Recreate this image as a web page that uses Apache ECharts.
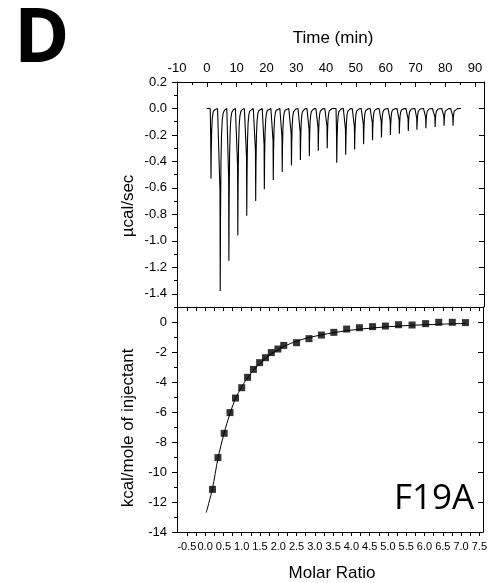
<!DOCTYPE html>
<html>
<head>
<meta charset="utf-8">
<script src="https://cdn.jsdelivr.net/npm/echarts@6/dist/echarts.min.js"></script>
<style>
html,body{margin:0;padding:0;background:#fff;}
#chart{width:490px;height:583px;}
</style>
</head>
<body>
<div id="chart"></div>
<script>
// ---- data ----
// Thermogram: injection peak times (min) and peak heights (µcal/sec)
const peakTimes = [1.4, 4.5, 7.4, 10.4, 13.4, 16.4, 19.3, 22.3, 25.3, 28.4, 31.4, 34.4, 37.4, 40.4,
                   43.6, 46.6, 49.6, 52.6, 55.6, 58.6, 61.6, 64.6, 67.6, 70.5, 73.5, 76.6, 79.6, 82.6];
const peakHeights = [-0.53, -1.38, -1.15, -0.96, -0.81, -0.70, -0.61, -0.54, -0.48, -0.43, -0.39, -0.36, -0.32, -0.30,
                     -0.41, -0.35, -0.31, -0.27, -0.24, -0.22, -0.20, -0.19, -0.17, -0.16, -0.15, -0.14, -0.13, -0.13];
const baselineStart = 0;
const baselineEnd = 85.3;

// Integrated heats: molar ratio and kcal/mole of injectant
const molarRatio = [0.20, 0.35, 0.52, 0.68, 0.83, 1.00, 1.16, 1.32, 1.49, 1.65, 1.81, 1.99, 2.15,
                    2.50, 2.84, 3.18, 3.52, 3.87, 4.22, 4.58, 4.93, 5.29, 5.66, 6.03, 6.39, 6.76, 7.12];
const heats = [-11.16, -9.04, -7.42, -6.04, -5.07, -4.38, -3.69, -3.16, -2.71, -2.38, -2.04, -1.80, -1.56,
               -1.38, -1.11, -0.87, -0.69, -0.47, -0.38, -0.31, -0.27, -0.18, -0.20, -0.11, -0.02, -0.02, -0.04];

// Fit curve
const fitX = [0.03, 0.20, 0.35, 0.52, 0.68, 0.83, 1.00, 1.16, 1.32, 1.49, 1.65, 1.81, 1.99, 2.15,
              2.50, 2.84, 3.18, 3.52, 3.87, 4.22, 4.58, 4.93, 5.29, 5.66, 6.03, 6.39, 6.76, 7.12];
const fitY = [-12.70, -11.10, -9.10, -7.40, -6.10, -5.10, -4.32, -3.72, -3.22, -2.78, -2.42, -2.12, -1.85, -1.63,
              -1.28, -1.04, -0.86, -0.71, -0.58, -0.48, -0.40, -0.33, -0.27, -0.22, -0.18, -0.15, -0.12, -0.10];

// Tick labels
const timeLabels = [-10, 0, 10, 20, 30, 40, 50, 60, 70, 80, 90];
const timeMinor = [-5, 5, 15, 25, 35, 45, 55, 65, 75, 85];
const powerLabels = [-1.4, -1.2, -1.0, -0.8, -0.6, -0.4, -0.2, 0.0, 0.2];
const powerMinor = [-1.5, -1.3, -1.1, -0.9, -0.7, -0.5, -0.3, -0.1, 0.1];
const heatLabels = [-14, -12, -10, -8, -6, -4, -2, 0];
const heatMinor = [-13, -11, -9, -7, -5, -3, -1];
const ratioLabels = [-0.5, 0.0, 0.5, 1.0, 1.5, 2.0, 2.5, 3.0, 3.5, 4.0, 4.5, 5.0, 5.5, 6.0, 6.5, 7.0, 7.5];
const ratioTicks = [-0.5, -0.25, 0, 0.25, 0.5, 0.75, 1.0, 1.25, 1.5, 1.75, 2.0, 2.25, 2.5, 2.75, 3.0, 3.25,
                    3.5, 3.75, 4.0, 4.25, 4.5, 4.75, 5.0, 5.25, 5.5, 5.75, 6.0, 6.25, 6.5, 6.75, 7.0, 7.25, 7.5];

// ---- peak drawing template (shape only: time offset, fraction of peak height) ----
const peakShape = [[-0.25, 0], [-0.08, 0.45], [0, 1], [0.1, 0.6], [0.25, 0.3], [0.45, 0.14],
                   [0.7, 0.06], [1.0, 0.025], [1.5, 0.008], [2.2, 0]];

const thermo = [[baselineStart, 0]];
peakTimes.forEach((t, i) => {
  peakShape.forEach(([dt, f]) => thermo.push([t + dt, peakHeights[i] * f]));
});
thermo.push([baselineEnd, 0]);

const points = molarRatio.map((x, i) => [x, heats[i]]);
const fit = fitX.map((x, i) => [x, fitY[i]]);

const FONT = 'Liberation Sans, Arial, sans-serif';
const black = '#000';
const line = {show: true, onZero: false, lineStyle: {color: black, width: 1}};
const noLine = {show: false, onZero: false};
const lbl = (extra) => Object.assign({color: black, fontSize: 12, fontFamily: FONT, hideOverlap: false}, extra);

const chart = echarts.init(document.getElementById('chart'), null, {renderer: 'canvas'});
const option = {
  animation: false,
  backgroundColor: '#fff',
  grid: [
    {left: 177, top: 82, width: 307, height: 225},
    {left: 177, top: 307, width: 307, height: 225}
  ],
  xAxis: [
    {type: 'value', gridIndex: 0, position: 'top', min: -10, max: 93,
     axisLine: line, splitLine: {show: false},
     axisLabel: lbl({customValues: timeLabels, margin: 7, fontSize: 13}),
     axisTick: {customValues: timeLabels, inside: true, length: 5, lineStyle: {color: black}}},
    {type: 'value', gridIndex: 0, position: 'top', min: -10, max: 93,
     axisLine: noLine, splitLine: {show: false}, axisLabel: {show: false},
     axisTick: {customValues: timeMinor, inside: true, length: 3, lineStyle: {color: black}}},
    {type: 'value', gridIndex: 1, position: 'bottom', min: -0.77, max: 7.6,
     axisLine: line, splitLine: {show: false},
     axisLabel: lbl({customValues: ratioLabels, margin: 9, fontSize: 11, showMinLabel: true, formatter: v => v.toFixed(1)}),
     axisTick: {customValues: ratioTicks, inside: false, length: 4, lineStyle: {color: black}}},
    {type: 'value', gridIndex: 1, position: 'top', min: -0.77, max: 7.6,
     axisLine: line, splitLine: {show: false}, axisLabel: {show: false},
     axisTick: {customValues: ratioTicks, inside: true, length: 4, lineStyle: {color: black}}}
  ],
  yAxis: [
    {type: 'value', gridIndex: 0, position: 'left', min: -1.5, max: 0.2,
     axisLine: line, splitLine: {show: false},
     axisLabel: lbl({customValues: powerLabels, margin: 10, fontSize: 13, formatter: v => v.toFixed(1)}),
     axisTick: {customValues: powerLabels, inside: false, length: 5, lineStyle: {color: black}}},
    {type: 'value', gridIndex: 0, position: 'left', min: -1.5, max: 0.2,
     axisLine: noLine, splitLine: {show: false}, axisLabel: {show: false},
     axisTick: {customValues: powerMinor, inside: false, length: 3, lineStyle: {color: black}}},
    {type: 'value', gridIndex: 0, position: 'right', min: -1.5, max: 0.2,
     axisLine: line, splitLine: {show: false}, axisLabel: {show: false},
     axisTick: {customValues: powerLabels, inside: true, length: 5, lineStyle: {color: black}}},
    {type: 'value', gridIndex: 1, position: 'left', min: -14, max: 1,
     axisLine: line, splitLine: {show: false},
     axisLabel: lbl({customValues: heatLabels, margin: 10, fontSize: 13}),
     axisTick: {customValues: heatLabels, inside: false, length: 5, lineStyle: {color: black}}},
    {type: 'value', gridIndex: 1, position: 'left', min: -14, max: 1,
     axisLine: noLine, splitLine: {show: false}, axisLabel: {show: false},
     axisTick: {customValues: heatMinor, inside: false, length: 3, lineStyle: {color: black}}},
    {type: 'value', gridIndex: 1, position: 'right', min: -14, max: 1,
     axisLine: line, splitLine: {show: false}, axisLabel: {show: false},
     axisTick: {customValues: heatLabels, inside: true, length: 5, lineStyle: {color: black}}}
  ],
  series: [
    {type: 'line', xAxisIndex: 0, yAxisIndex: 0, data: thermo, showSymbol: false, symbol: 'none',
     lineStyle: {color: '#000', width: 1.1}, z: 3},
    {type: 'line', xAxisIndex: 2, yAxisIndex: 3, data: fit, smooth: 0.3, showSymbol: false, symbol: 'none',
     lineStyle: {color: black, width: 1}, z: 2},
    {type: 'scatter', xAxisIndex: 2, yAxisIndex: 3, data: points, symbol: 'rect', symbolSize: 7,
     itemStyle: {color: black}, z: 4}
  ],
  graphic: [
    {type: 'text', x: 14, y: 41, style: {text: 'D', font: 'bold 75px "Open Sans"', fill: black,
      align: 'left', verticalAlign: 'middle'}},
    {type: 'text', x: 333, y: 38, style: {text: 'Time (min)', font: '17px ' + FONT, fill: black,
      align: 'center', verticalAlign: 'middle'}},
    {type: 'text', x: 128, y: 206, rotation: Math.PI / 2, style: {text: 'µcal/sec', font: '17px ' + FONT, fill: black,
      align: 'center', verticalAlign: 'middle'}},
    {type: 'text', x: 128, y: 428, rotation: Math.PI / 2, style: {text: 'kcal/mole of injectant', font: '17px ' + FONT, fill: black,
      align: 'center', verticalAlign: 'middle'}},
    {type: 'text', x: 332, y: 573, style: {text: 'Molar Ratio', font: '17px ' + FONT, fill: black,
      align: 'center', verticalAlign: 'middle'}},
    {type: 'text', x: 394, y: 499, style: {text: 'F19A', font: '35px "Open Sans"', fill: black,
      align: 'left', verticalAlign: 'middle'}}
  ]
};
chart.setOption(option);
</script>
</body>
</html>
